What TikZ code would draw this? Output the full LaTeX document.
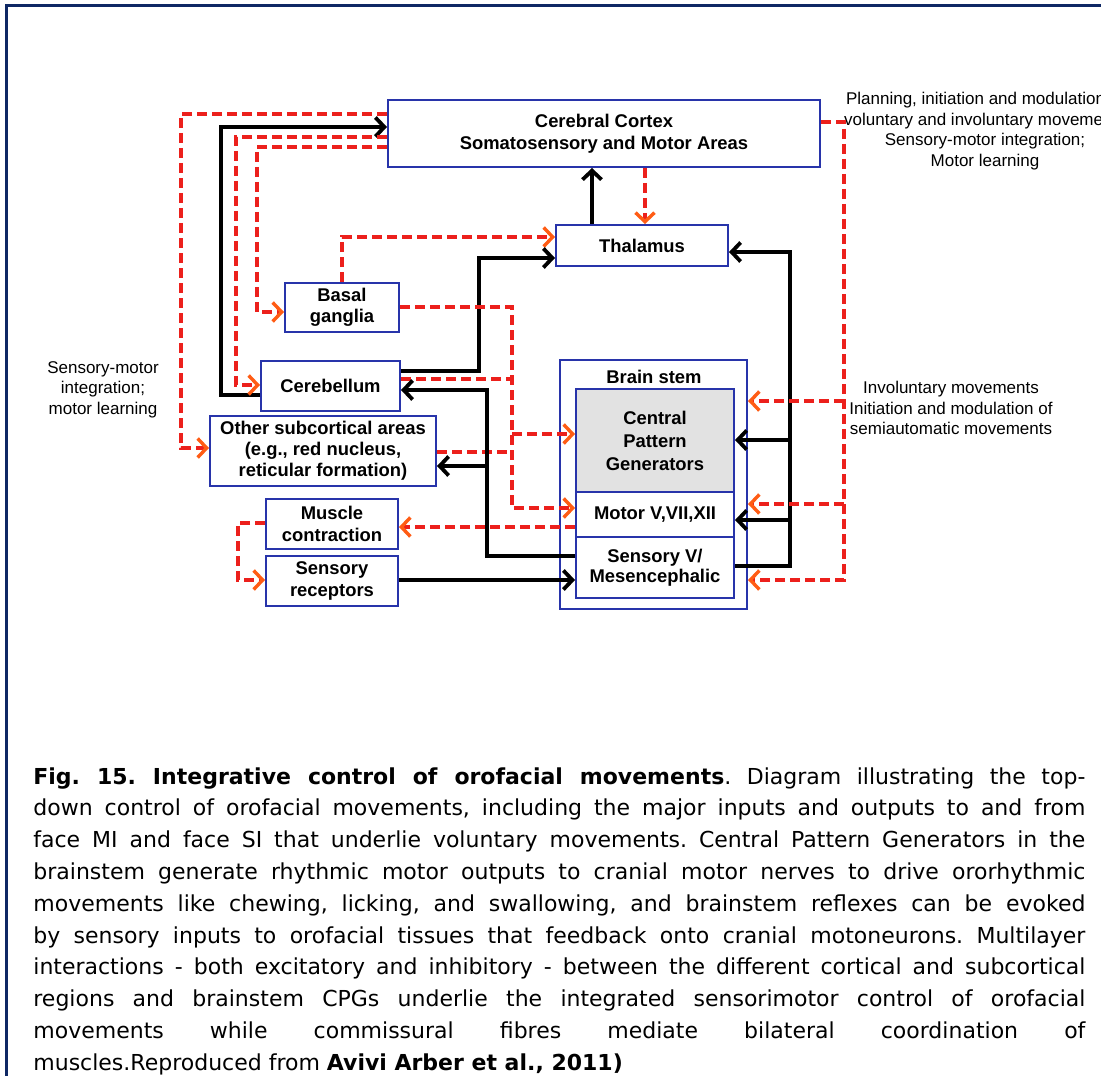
\documentclass[tikz,border=0pt]{standalone}
\usepackage{fontspec}
\setmainfont{Liberation Sans}
\newfontfamily\capfont{DejaVu Sans}
\usetikzlibrary{arrows.meta}
\definecolor{boxblue}{RGB}{40,52,170}
\definecolor{lred}{RGB}{236,32,28}
\definecolor{torange}{RGB}{255,92,20}
\definecolor{navy}{RGB}{14,40,100}
\definecolor{cpggray}{RGB}{226,226,226}
\begin{document}
\frenchspacing
\begin{tikzpicture}[x=0.5pt,y=-0.5pt,
  box/.style={draw=boxblue, line width=1pt, fill=white, inner sep=0pt, align=center,
    font=\fontsize{9.2}{10.6}\selectfont\bfseries},
  blk/.style={line width=1.9pt, black, line join=miter},
  rdash/.style={line width=1.7pt, lred, dash pattern=on 5pt off 2.5pt},
  bto/.style={-{Straight Barb[length=4.5pt,width=9.5pt]}},
  rto/.style={-{Straight Barb[length=4.5pt,width=9.5pt,color=torange]}},
  lbl/.style={align=center, inner sep=0pt, font=\fontsize{8.5}{10.3}\selectfont},
  capline/.style={inner sep=0pt, anchor=base west, font=\capfont\fontsize{11}{16}\selectfont}]
\useasboundingbox (0,0) rectangle (1101,1075);
\clip (0,0) rectangle (1101,1075);
% frame
\draw[navy, line width=1.5pt] (6,1080) -- (6,6) -- (1105,6);
% boxes
\node[box, minimum width=216pt, minimum height=33.5pt, font=\fontsize{9.2}{11}\selectfont\bfseries] (cortex) at (604,133.5) {Cerebral Cortex\\Somatosensory and Motor Areas};
\node[box, minimum width=86pt, minimum height=20.5pt] (thal) at (642,245.5) {Thalamus};
\node[box, minimum width=57pt, minimum height=24.5pt] (basal) at (342,307.5) {Basal\\ganglia};
\node[box, minimum width=69.5pt, minimum height=25pt] (cereb) at (330.5,386) {Cerebellum};
\node[box, minimum width=113pt, minimum height=35pt] (other) at (323,451) {Other subcortical areas\\(e.g., red nucleus,\\reticular formation)};
\node[box, minimum width=66pt, minimum height=25pt] (muscle) at (332,524) {Muscle\\contraction};
\node[box, minimum width=66pt, minimum height=25pt] (sensrec) at (332,581) {Sensory\\receptors};
\node[box, minimum width=93.5pt, minimum height=124.5pt] (bs) at (653.5,484.5) {};
\node[box, fill=cpggray, minimum width=79pt, minimum height=51.5pt, font=\fontsize{9.2}{11.5}\selectfont\bfseries] (cpg) at (655,440.5) {Central\\Pattern\\Generators};
\node[box, minimum width=79pt, minimum height=22.5pt] (motor) at (655,514.5) {Motor V,VII,XII};
\node[box, minimum width=79pt, minimum height=30.5pt, font=\fontsize{9.2}{10}\selectfont\bfseries] (sensv) at (655,567.5) {Sensory V/\\Mesencephalic};
\node[inner sep=0pt, font=\fontsize{9.2}{11}\selectfont\bfseries] (bslabel) at (654,377) {Brain stem};
% labels
\node[lbl] (toptext) at (985,131) {Planning, initiation and modulation of\\voluntary and involuntary movements\\Sensory-motor integration;\\Motor learning};
\node[lbl] (lefttext) at (103,389.5) {Sensory-motor\\integration;\\motor learning};
\node[lbl] (midtext) at (951,408) {Involuntary movements\\Initiation and modulation of\\semiautomatic movements};
% left connectors
\draw[rdash,rto] (cortex.west |- 0,114) -| (181,448) -- (other.west |- 0,448);
\draw[blk,bto] (cereb.west |- 0,395) -| (221,127) -- (cortex.west |- 0,127);
\draw[rdash,rto] (cortex.west |- 0,137) -| (236,385) -- (cereb.west |- 0,385);
\draw[rdash,rto] (cortex.west |- 0,147) -| (257,312) -- (basal.west |- 0,312);
% cortex - thalamus
\draw[blk,bto] (thal.north -| 592,0) -- (cortex.south -| 592,0);
\draw[rdash,rto] (cortex.south -| 645,0) -- (thal.north -| 645,0);
\draw[rdash,rto] (basal.north) |- (thal.west |- 0,237);
\draw[blk,bto] (cereb.east |- 0,371) -| (479,258) -- (thal.west |- 0,258);
% middle
\draw[rdash,rto] (basal.east |- 0,307) -| (512,508) -- (motor.west |- 0,508);
\draw[rdash] (cereb.east |- 0,379) -- (512,379);
\draw[rdash] (other.east |- 0,452) -- (512,452);
\draw[rdash,rto] (512,434) -- (cpg.west |- 0,434);
\draw[blk,bto] (sensv.west |- 0,556) -| (487,390) -- (cereb.east |- 0,390);
\draw[blk,bto] (487,466) -- (other.east |- 0,466);
\draw[rdash,rto] (motor.west |- 0,527) -- (muscle.east |- 0,527);
\draw[rdash,rto] (muscle.west |- 0,523) -| (238,580) -- (sensrec.west |- 0,580);
\draw[blk,bto] (sensrec.east |- 0,580) -- (sensv.west |- 0,580);
% right
\draw[blk,bto] (sensv.east |- 0,566) -| (790,252) -- (thal.east |- 0,252);
\draw[blk,bto] (790,440) -- (cpg.east |- 0,440);
\draw[blk,bto] (790,520) -- (motor.east |- 0,520);
\draw[rdash,rto] (cortex.east |- 0,122) -| (844,580) -- (bs.east |- 0,580);
\draw[rdash,rto] (844,401) -- (bs.east |- 0,401);
\draw[rdash,rto] (844,504) -- (bs.east |- 0,504);
% caption
\node[capline] (c1) at (33,784) {\makebox[526pt][s]{\textbf{Fig. 15. Integrative control of orofacial movements}. Diagram illustrating the top-}};
\node[capline] (c2) at (33,815.8) {\makebox[526pt][s]{down control of orofacial movements, including the major inputs and outputs to and from}};
\node[capline] (c3) at (33,847.6) {\makebox[526pt][s]{face MI and face SI that underlie voluntary movements. Central Pattern Generators in the}};
\node[capline] (c4) at (33,879.4) {\makebox[526pt][s]{brainstem generate rhythmic motor outputs to cranial motor nerves to drive ororhythmic}};
\node[capline] (c5) at (33,911.2) {\makebox[526pt][s]{movements like chewing, licking, and swallowing, and brainstem reflexes can be evoked}};
\node[capline] (c6) at (33,943) {\makebox[526pt][s]{by sensory inputs to orofacial tissues that feedback onto cranial motoneurons. Multilayer}};
\node[capline] (c7) at (33,974.8) {\makebox[526pt][s]{interactions - both excitatory and inhibitory - between the different cortical and subcortical}};
\node[capline] (c8) at (33,1006.6) {\makebox[526pt][s]{regions and brainstem CPGs underlie the integrated sensorimotor control of orofacial}};
\node[capline] (c9) at (33,1038.4) {\makebox[526pt][s]{movements while commissural fibres mediate bilateral coordination of}};
\node[capline] (c10) at (33,1070.2) {muscles.Reproduced from \textbf{Avivi Arber et al., 2011)}};
\end{tikzpicture}
\end{document}
